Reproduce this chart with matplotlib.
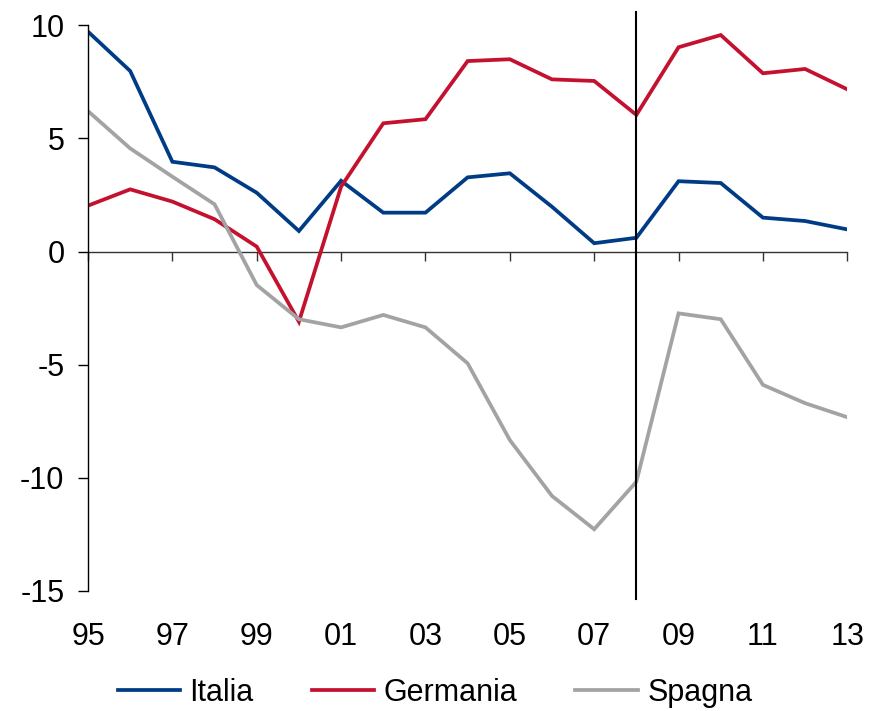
import matplotlib
matplotlib.use("Agg")
import matplotlib.pyplot as plt

plt.rcParams['font.family'] = ['Liberation Sans', 'DejaVu Sans']

years = list(range(1995, 2014))
italia = [9.72, 7.98, 3.97, 3.72, 2.60, 0.91, 3.13, 1.72, 1.72, 3.28, 3.46, 1.98,
          0.37, 0.61, 3.11, 3.03, 1.50, 1.35, 0.98]
germania = [2.03, 2.75, 2.21, 1.43, 0.22, -3.10, 2.87, 5.67, 5.85, 8.42, 8.50, 7.61,
            7.54, 6.04, 9.03, 9.57, 7.88, 8.07, 7.17]
spagna = [6.21, 4.56, 3.31, 2.09, -1.48, -2.99, -3.35, -2.80, -3.35, -4.94, -8.33,
          -10.80, -12.27, -10.17, -2.73, -2.99, -5.89, -6.70, -7.32]
series_names = ['Italia', 'Germania', 'Spagna']
colors = ['#003C86', '#C3112F', '#A3A3A3']

xticks = list(range(1995, 2014, 2))
xticklabels = ['95', '97', '99', '01', '03', '05', '07', '09', '11', '13']
yticks = [-15, -10, -5, 0, 5, 10]
yticklabels = ['-15', '-10', '-5', '0', '5', '10']
marker_year = 2008

fig = plt.figure(figsize=(8.7, 7.11), dpi=100)
ax = fig.add_axes([88 / 870, 120 / 711, 759.3 / 870, 565.7 / 711])

for vals, name, c in zip([italia, germania, spagna], series_names, colors):
    ax.plot(years, vals, color=c, lw=2.7, label=name, solid_joinstyle='miter')

ax.set_xlim(1995, 2013)
ax.set_ylim(-15, 10)

for s in ['top', 'right', 'bottom']:
    ax.spines[s].set_visible(False)
ax.spines['left'].set_linewidth(1.0)
ax.spines['left'].set_color('black')

ax.set_yticks(yticks)
ax.set_yticklabels(yticklabels, fontsize=22)
ax.tick_params(axis='y', direction='out', length=7, width=1, pad=10)

ax.set_xticks(xticks)
ax.set_xticklabels(xticklabels, fontsize=22)
ax.tick_params(axis='x', length=0, pad=22)

# zero line with ticks
sec = ax.secondary_xaxis(0, transform=ax.transData)
sec.set_xticks(xticks)
sec.set_xticklabels([''] * len(xticks))
sec.tick_params(axis='x', direction='out', length=6.5, width=1, color='#333333')
sec.spines['bottom'].set_color('#333333')
sec.spines['bottom'].set_linewidth(1.0)

ax.axvline(marker_year, ymin=-0.014, ymax=1.023, color='black', lw=1.5, clip_on=False)

fig.legend(loc='center', bbox_to_anchor=(0.5, 0.026), ncol=3, frameon=False,
           fontsize=22, handlelength=2.05, handletextpad=0.3, columnspacing=1.9)

fig.savefig('out.png', dpi=100)
